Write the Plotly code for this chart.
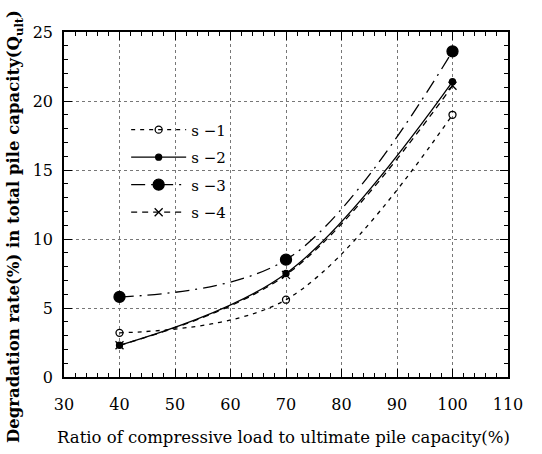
import plotly.graph_objects as go

x_load = [40, 70, 100]
s1 = [3.2, 5.6, 19.0]
s2 = [2.3, 7.5, 21.4]
s3 = [5.8, 8.5, 23.6]
s4 = [2.3, 7.4, 21.1]
names = ["s −1", "s −2", "s −3", "s −4"]

styles = [
    dict(dash="4px,5px", symbol="circle-open", size=7),
    dict(dash="solid", symbol="circle", size=6),
    dict(dash="14px,6px,2px,6px", symbol="circle", size=11),
    dict(dash="6px,5px", symbol="x-thin-open", size=8),
]

fig = go.Figure()
for i, (ys, nm, st) in enumerate(zip([s1, s2, s3, s4], names, styles)):
    fig.add_trace(go.Scatter(
        x=x_load, y=ys, name=nm, mode="lines+markers", legendgroup=f"g{i}",
        line=dict(color="black", width=1.3, dash=st["dash"], shape="spline", smoothing=1.0),
        marker=dict(color="black", symbol=st["symbol"], size=st["size"],
                    line=dict(color="black", width=1.3)),
    ))

font = "DejaVu Serif"
axis_common = dict(
    showline=True, linecolor="black", linewidth=1.5, mirror="ticks",
    ticks="inside", ticklen=8, tickcolor="black",
    showgrid=True, gridcolor="#777", griddash="dot", gridwidth=1,
    zeroline=False, automargin=False,
    tickfont=dict(family=font, size=16, color="black"),
    minor=dict(ticks="inside", ticklen=4, tickcolor="black", showgrid=False),
)
fig.update_xaxes(range=[30, 110], dtick=10, minor_dtick=2, ticklabelstandoff=12, **axis_common)
fig.update_yaxes(range=[0, 25], dtick=5, minor_dtick=1, ticklabelstandoff=6, **axis_common)

fig.add_annotation(
    text="Ratio of compressive load to ultimate pile capacity(%)",
    xref="paper", yref="paper", x=0.495, y=-0.175, xanchor="center", yanchor="middle",
    showarrow=False, font=dict(family=font, size=16.5, color="black"),
)
fig.add_annotation(
    text="<b>Degradation rate(%) in total pile capacity(Q<sub>ult</sub>)</b>",
    xref="paper", yref="paper", x=-0.11, y=0.435, xanchor="center", yanchor="middle",
    textangle=-90, showarrow=False, font=dict(family=font, size=16.5, color="black"),
)

fig.update_layout(
    width=542, height=454,
    margin=dict(l=64, r=34, t=32, b=77),
    paper_bgcolor="white", plot_bgcolor="white",
    font=dict(family=font, color="black"),
    showlegend=True,
    legend=dict(x=0.14, y=0.764, xanchor="left", yanchor="top",
                bgcolor="rgba(0,0,0,0)", font=dict(family=font, size=15),
                itemwidth=55, tracegroupgap=5),
)

fig.write_html("out.html", config={"displayModeBar": False},
               post_script="document.body.style.margin='0';document.body.style.overflow='hidden';")
